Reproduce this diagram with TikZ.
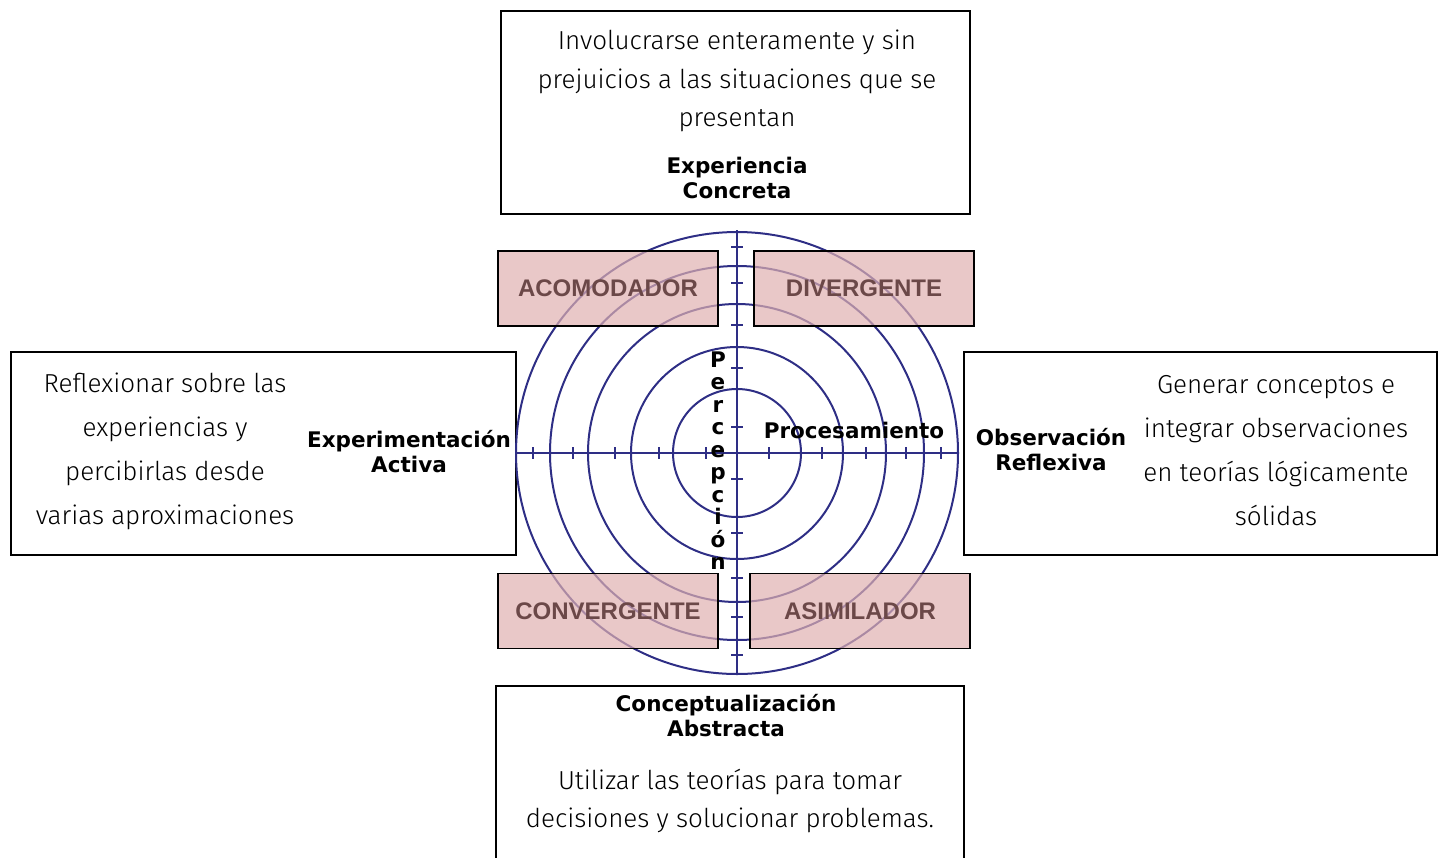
\documentclass[tikz,border=0pt]{standalone}
\usepackage{fontspec}
\setmainfont{DejaVu Sans}
\newfontfamily\thinfont{Fira Sans Light}
\newfontfamily\stylefont{Liberation Sans}
\usetikzlibrary{positioning}

\definecolor{ringblue}{HTML}{2E2E85}
\definecolor{stylepink}{HTML}{E0B0B0}
\definecolor{styletext}{HTML}{6B4848}

\tikzset{
  outerbox/.style={draw=black, line width=2pt, fill=white, inner sep=0pt},
  stylebox/.style={draw=black, line width=1.6pt, fill=stylepink, fill opacity=0.7,
    text opacity=1, inner sep=0pt, minimum width=220, minimum height=75,
    text=styletext, font=\stylefont\bfseries\fontsize{24}{24}\selectfont},
  desc/.style={align=center, inner sep=0pt, font=\thinfont\fontsize{26}{38.5}\selectfont},
  descwide/.style={desc, font=\thinfont\fontsize{26}{44}\selectfont},
  modelabel/.style={align=center, inner sep=0pt, font=\bfseries\fontsize{21.5}{25}\selectfont},
  ring/.style={draw=ringblue, line width=2pt},
  axisline/.style={draw=ringblue, line width=2pt}
}

\begin{document}
\begin{tikzpicture}[x=1pt, y=-1pt]
    \useasboundingbox (0,0) rectangle (1442,857);

    % outer boxes
    \node[outerbox, minimum width=469, minimum height=203] (concreta) at (735.5,112.5) {};
    \node[outerbox, minimum width=468, minimum height=240] (abstracta) at (730,806) {};
    \node[outerbox, minimum width=505, minimum height=203] (activa) at (263.5,453.5) {};
    \node[outerbox, minimum width=473, minimum height=203] (reflexiva) at (1200.5,453.5) {};

    % rings and axes
    \coordinate (ctr) at (737,453);
    \foreach \r in {64,106,149,187,221}
        \draw[ring] (ctr) circle (\r);
    \draw[axisline] (517,453) -- (959,453);
    \draw[axisline] (737,230) -- (737,673);
    \foreach \t in {533,573,615,659,706,769,822,866,906,941}
        \draw[axisline] (\t,447) -- (\t,459);
    \foreach \t in {247,283,325,368,427,479,533,578,617,655}
        \draw[axisline] (731,\t) -- (743,\t);

    % learning styles
    \node[stylebox] (acomodador) at (608,288.5) {ACOMODADOR};
    \node[stylebox] (divergente) at (864,288.5) {DIVERGENTE};
    \node[stylebox] (convergente) at (608,611) {CONVERGENTE};
    \node[stylebox] (asimilador) at (860,611) {ASIMILADOR};

    % labels
    \node[desc] (concreta-txt) at (737,81) {Involucrarse enteramente y sin\\prejuicios a las situaciones que se\\presentan};
    \node[modelabel] (concreta-lbl) at (737,178) {Experiencia\\Concreta};
    \node[modelabel] (abstracta-lbl) at (726,716) {Conceptualización\\Abstracta};
    \node[desc] (abstracta-txt) at (730,801) {Utilizar las teorías para tomar\\decisiones y solucionar problemas.};
    \node[descwide] (activa-txt) at (165,451) {Reflexionar sobre las\\experiencias y\\percibirlas desde\\varias aproximaciones};
    \node[modelabel] (activa-lbl) at (409,452) {Experimentación\\Activa};
    \node[modelabel] (reflexiva-lbl) at (1051,450) {Observación\\Reflexiva};
    \node[descwide] (reflexiva-txt) at (1276,451) {Generar conceptos e\\integrar observaciones\\en teorías lógicamente\\sólidas};

    \node[modelabel] (procesamiento) at (854,430) {Procesamiento};
    \foreach \ch [count=\k from 0] in {P,e,r,c,e,p,c,i,ó,n}
        \node[modelabel, anchor=base] (perc-\k) at (718,367+22.5*\k) {\ch};
\end{tikzpicture}
\end{document}
